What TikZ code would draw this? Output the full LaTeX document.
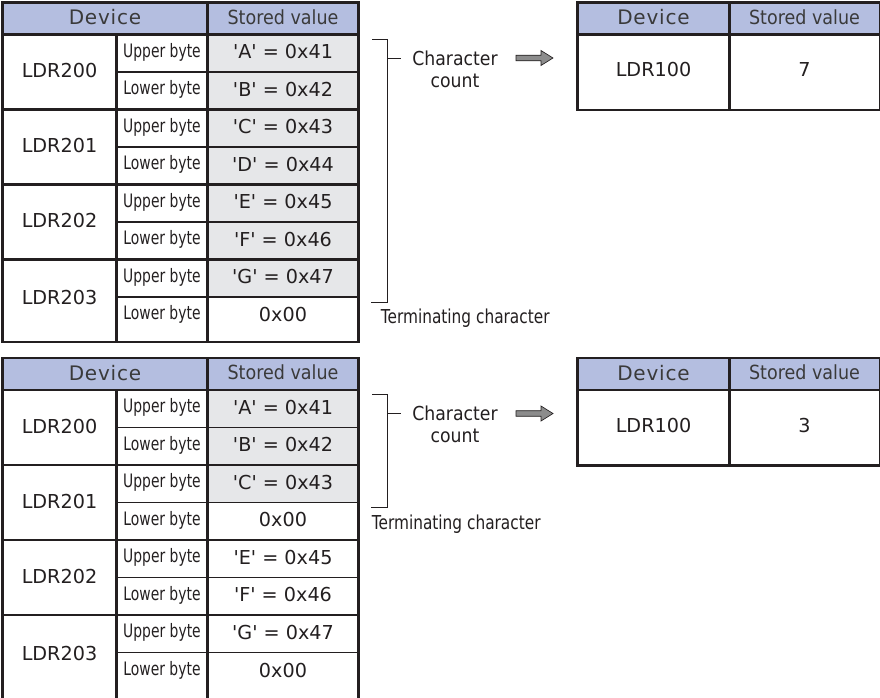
\documentclass[tikz,border=0pt]{standalone}
\usepackage{fontspec}
\setmainfont{DejaVu Sans}
\newfontfamily\narrowf[FakeStretch=0.75]{DejaVu Sans}
\newfontfamily\termf[FakeStretch=0.8]{DejaVu Sans}
\newfontfamily\semif[FakeStretch=0.9]{DejaVu Sans}
\newfontfamily\hdrf[LetterSpace=4]{DejaVu Sans}
\newfontfamily\valf[Ligatures=TeXOff]{DejaVu Sans}
\definecolor{hdrblue}{RGB}{180,190,224}
\definecolor{cellgray}{RGB}{230,231,233}
\definecolor{ink}{RGB}{35,31,32}
\definecolor{hdrtext}{RGB}{58,58,58}
\definecolor{arrowgray}{RGB}{140,140,140}
\begin{document}
\begin{tikzpicture}[x=0.75pt,y=-0.75pt,
  thickline/.style={draw=ink,line width=1.6pt},
  thinline/.style={draw=ink,line width=0.8pt},
  brk/.style={draw=ink,line width=0.75pt},
  blockarrow/.style={draw=ink,line width=0.5pt,fill=arrowgray},
  hdrtxt/.style={inner sep=0,text=hdrtext,font=\hdrf\fontsize{15}{18}\selectfont,yshift=1pt},
  svtxt/.style={inner sep=0,text=hdrtext,font=\semif\fontsize{14.6}{18}\selectfont,yshift=1pt},
  ldrtxt/.style={inner sep=0,text=ink,font=\fontsize{14.4}{17}\selectfont,yshift=1pt},
  bytetxt/.style={inner sep=0,text=ink,font=\narrowf\fontsize{13.9}{17}\selectfont,yshift=1pt},
  valtxt/.style={inner sep=0,text=ink,font=\valf\fontsize{14.4}{17}\selectfont,yshift=1pt},
  notetxt/.style={inner sep=0,text=ink,font=\semif\fontsize{14.4}{17}\selectfont},
  termtxt/.style={inner sep=0,text=ink,font=\termf\fontsize{14.4}{17}\selectfont}
]
\useasboundingbox (0,0) rectangle (880,697);

% ================= upper example =================
\begin{scope}
  \fill[hdrblue] (2.5,2.5) rectangle (358.5,34.5);
  \foreach \t/\b in {34.5/72,72/109.5,109.5/147,147/184.5,184.5/222,222/259.5,259.5/297}
    \fill[cellgray] (207.5,\t) rectangle (358.5,\b);
  % lines
  \draw[thinline] (116.5,72) -- (358.5,72);
  \draw[thinline] (116.5,147) -- (358.5,147);
  \draw[thinline] (116.5,222) -- (358.5,222);
  \draw[thinline] (116.5,297) -- (358.5,297);
  \draw[thickline] (2.5,34.5) -- (358.5,34.5);
  \draw[thickline] (2.5,109.5) -- (358.5,109.5);
  \draw[thickline] (2.5,184.5) -- (358.5,184.5);
  \draw[thickline] (2.5,259.5) -- (358.5,259.5);
  \draw[thickline] (116.5,34.5) -- (116.5,342);
  \draw[thickline] (207.5,2.5) -- (207.5,342);
  \draw[thickline] (2.5,2.5) rectangle (358.5,342);
  % header
  \node[hdrtxt] (a-hd) at (105,18.5) {Device};
  \node[svtxt] (a-hs) at (283,18.5) {Stored value};
  % devices
  \node[ldrtxt] (a-d0) at (59.5,72) {LDR200};
  \node[ldrtxt] (a-d1) at (59.5,147) {LDR201};
  \node[ldrtxt] (a-d2) at (59.5,222) {LDR202};
  \node[ldrtxt] (a-d3) at (59.5,299) {LDR203};
  % bytes
  \node[bytetxt] (a-b1) at (162,53.25) {Upper byte};
  \node[bytetxt] (a-b2) at (162,90.75) {Lower byte};
  \node[bytetxt] (a-b3) at (162,128.25) {Upper byte};
  \node[bytetxt] (a-b4) at (162,165.75) {Lower byte};
  \node[bytetxt] (a-b5) at (162,203.25) {Upper byte};
  \node[bytetxt] (a-b6) at (162,240.75) {Lower byte};
  \node[bytetxt] (a-b7) at (162,278.25) {Upper byte};
  \node[bytetxt] (a-b8) at (162,316) {Lower byte};
  % values
  \node[valtxt] (a-v1) at (283,53.25) {'A' = 0x41};
  \node[valtxt] (a-v2) at (283,90.75) {'B' = 0x42};
  \node[valtxt] (a-v3) at (283,128.25) {'C' = 0x43};
  \node[valtxt] (a-v4) at (283,165.75) {'D' = 0x44};
  \node[valtxt] (a-v5) at (283,203.25) {'E' = 0x45};
  \node[valtxt] (a-v6) at (283,240.75) {'F' = 0x46};
  \node[valtxt] (a-v7) at (283,278.25) {'G' = 0x47};
  \node[valtxt] (a-v8) at (283,316) {0x00};
  % bracket
  \coordinate (a-k1) at (372,39);
  \coordinate (a-k2) at (387,39);
  \coordinate (a-k3) at (387,302);
  \coordinate (a-k4) at (371,302);
  \coordinate (a-km) at (387,58);
  \coordinate (a-kn) at (401,58);
  \draw[brk] (a-k1) -- (a-k2) -- (a-k3) -- (a-k4);
  \draw[brk] (a-km) -- (a-kn);
  \node[notetxt,anchor=base] (a-cc) at (455,65) {Character};
  \node[notetxt,anchor=base] (a-cn) at (455,87) {count};
  \node[termtxt,anchor=base west] (a-tc) at (380.5,323.5) {Terminating character};
  % arrow
  \coordinate (a-as) at (516,58);
  \draw[blockarrow] (a-as) ++(0,-2.8) -- ++(25,0) -- ++(0,-4.7) -- ++(12,7.5)
     -- ++(-12,7.5) -- ++(0,-4.7) -- ++(-25,0) -- cycle;
  % result table
  \fill[hdrblue] (577.5,2.5) rectangle (880,34.5);
  \draw[thickline] (577.5,34.5) -- (880,34.5);
  \draw[thickline] (729.5,2.5) -- (729.5,110);
  \draw[thickline] (577.5,2.5) rectangle (880,110);
  \node[hdrtxt] (a-rhd) at (653.5,18.5) {Device};
  \node[svtxt] (a-rhs) at (804.5,18.5) {Stored value};
  \node[ldrtxt] (a-rd) at (653.5,71) {LDR100};
  \node[ldrtxt] (a-rv) at (804.5,71) {7};
\end{scope}

% ================= lower example =================
\begin{scope}[shift={(0,355.5)}]
  \fill[hdrblue] (2.5,2.5) rectangle (358.5,34.5);
  \foreach \t/\b in {34.5/72,72/109.5,109.5/147}
    \fill[cellgray] (207.5,\t) rectangle (358.5,\b);
  \draw[thinline] (116.5,72) -- (358.5,72);
  \draw[thinline] (116.5,147) -- (358.5,147);
  \draw[thinline] (116.5,222) -- (358.5,222);
  \draw[thinline] (116.5,297) -- (358.5,297);
  \draw[thickline] (2.5,34.5) -- (358.5,34.5);
  \draw[thickline] (2.5,109.5) -- (358.5,109.5);
  \draw[thickline] (2.5,184.5) -- (358.5,184.5);
  \draw[thickline] (2.5,259.5) -- (358.5,259.5);
  \draw[thickline] (116.5,34.5) -- (116.5,345);
  \draw[thickline] (207.5,2.5) -- (207.5,345);
  \draw[thickline] (2.5,345) -- (2.5,2.5) -- (358.5,2.5) -- (358.5,345);
  \node[hdrtxt] (b-hd) at (105,18.5) {Device};
  \node[svtxt] (b-hs) at (283,18.5) {Stored value};
  \node[ldrtxt] (b-d0) at (59.5,72) {LDR200};
  \node[ldrtxt] (b-d1) at (59.5,147) {LDR201};
  \node[ldrtxt] (b-d2) at (59.5,222) {LDR202};
  \node[ldrtxt] (b-d3) at (59.5,299) {LDR203};
  \node[bytetxt] (b-b1) at (162,53.25) {Upper byte};
  \node[bytetxt] (b-b2) at (162,90.75) {Lower byte};
  \node[bytetxt] (b-b3) at (162,128.25) {Upper byte};
  \node[bytetxt] (b-b4) at (162,165.75) {Lower byte};
  \node[bytetxt] (b-b5) at (162,203.25) {Upper byte};
  \node[bytetxt] (b-b6) at (162,240.75) {Lower byte};
  \node[bytetxt] (b-b7) at (162,278.25) {Upper byte};
  \node[bytetxt] (b-b8) at (162,316) {Lower byte};
  \node[valtxt] (b-v1) at (283,53.25) {'A' = 0x41};
  \node[valtxt] (b-v2) at (283,90.75) {'B' = 0x42};
  \node[valtxt] (b-v3) at (283,128.25) {'C' = 0x43};
  \node[valtxt] (b-v4) at (283,165.75) {0x00};
  \node[valtxt] (b-v5) at (283,203.25) {'E' = 0x45};
  \node[valtxt] (b-v6) at (283,240.75) {'F' = 0x46};
  \node[valtxt] (b-v7) at (283,278.25) {'G' = 0x47};
  \node[valtxt] (b-v8) at (283,316) {0x00};
  \coordinate (b-k1) at (372,39);
  \coordinate (b-k2) at (387,39);
  \coordinate (b-k3) at (387,152);
  \coordinate (b-k4) at (371,152);
  \coordinate (b-km) at (387,58);
  \coordinate (b-kn) at (401,58);
  \draw[brk] (b-k1) -- (b-k2) -- (b-k3) -- (b-k4);
  \draw[brk] (b-km) -- (b-kn);
  \node[notetxt,anchor=base] (b-cc) at (455,65) {Character};
  \node[notetxt,anchor=base] (b-cn) at (455,87) {count};
  \node[termtxt,anchor=base west] (b-tc) at (371.5,173.5) {Terminating character};
  \coordinate (b-as) at (516,58);
  \draw[blockarrow] (b-as) ++(0,-2.8) -- ++(25,0) -- ++(0,-4.7) -- ++(12,7.5)
     -- ++(-12,7.5) -- ++(0,-4.7) -- ++(-25,0) -- cycle;
  \fill[hdrblue] (577.5,2.5) rectangle (880,34.5);
  \draw[thickline] (577.5,34.5) -- (880,34.5);
  \draw[thickline] (729.5,2.5) -- (729.5,110);
  \draw[thickline] (577.5,2.5) rectangle (880,110);
  \node[hdrtxt] (b-rhd) at (653.5,18.5) {Device};
  \node[svtxt] (b-rhs) at (804.5,18.5) {Stored value};
  \node[ldrtxt] (b-rd) at (653.5,71) {LDR100};
  \node[ldrtxt] (b-rv) at (804.5,71) {3};
\end{scope}
\end{tikzpicture}
\end{document}
